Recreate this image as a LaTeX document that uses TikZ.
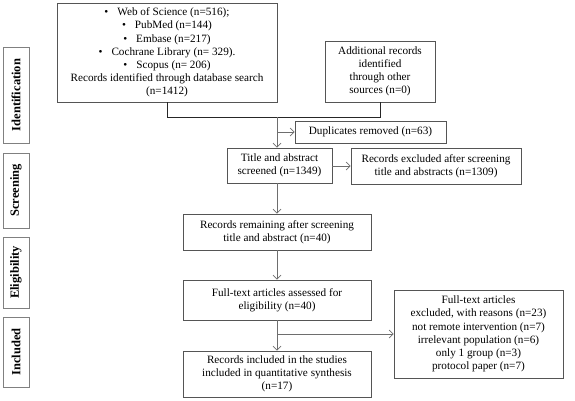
\documentclass[tikz,border=0pt]{standalone}
\usepackage{fontspec}
\setmainfont{Liberation Serif}
\usetikzlibrary{arrows.meta,shadows}
\definecolor{linec}{RGB}{110,110,110}
\definecolor{boxc}{RGB}{85,85,85}
\tikzset{
  fbox/.style={draw=boxc, line width=0.8pt, align=center, inner sep=0pt,
    font=\fontsize{11.2}{13.2}\selectfont},
  side/.style={draw=gray, line width=0.6pt, inner sep=0pt, rotate=90, fill=white,
    drop shadow={shadow xshift=1.2pt, shadow yshift=-1.2pt, fill=black!75, opacity=1},
    minimum height=26pt, font=\fontsize{12.5}{14}\selectfont\bfseries},
  conn/.style={draw=black!85, line width=1pt},
  arr/.style={draw=linec, line width=0.8pt, -{Straight Barb[length=4pt,width=8pt,line width=0.7pt]}}
}
\begin{document}
\begin{tikzpicture}[x=1pt,y=-1pt]
\useasboundingbox (0,0) rectangle (575,400);
% side labels
\node[side, minimum width=96pt] (sid) at (16,95) {Identification};
\node[side, minimum width=75pt] (sscr) at (16,190.5) {Screening};
\node[side, minimum width=71pt] (selig) at (16,272.5) {Eligibility};
\node[side, minimum width=70pt] (sincl) at (16,352) {Included};
% boxes
\node[fbox, minimum width=220pt, minimum height=99pt] (db) at (167,52.5)
  {•\hspace{9pt}Web of Science (n=516);\\
   •\hspace{9pt}PubMed (n=144)\\
   •\hspace{9pt}Embase (n=217)\\
   •\hspace{9pt}Cochrane Library (n= 329).\\
   •\hspace{9pt}Scopus (n= 206)\\
   Records identified through database search\\
   (n=1412)};
\node[fbox, minimum width=110pt, minimum height=61pt] (add) at (380,71.5)
  {Additional records\\identified\\through other\\sources (n=0)};
\node[fbox, minimum width=151pt, minimum height=22pt] (dup) at (370.5,132)
  {Duplicates removed (n=63)};
\node[fbox, minimum width=105pt, minimum height=35pt] (title) at (279.5,165.5)
  {Title and abstract\\screened (n=1349)};
\node[fbox, minimum width=170pt, minimum height=36pt] (exc1) at (436,166)
  {Records excluded after screening\\title and abstracts (n=1309)};
\node[fbox, minimum width=188pt, minimum height=36pt] (rem) at (277,232)
  {Records remaining after screening\\title and abstract (n=40)};
\node[fbox, minimum width=188pt, minimum height=40pt] (ft) at (277,300)
  {Full-text articles assessed for\\eligibility (n=40)};
\node[fbox, minimum width=188pt, minimum height=46pt] (inc) at (277,374)
  {Records included in the studies\\included in quantitative synthesis\\(n=17)};
\node[fbox, minimum width=169pt, minimum height=88pt] (exc2) at (478.5,334)
  {Full-text articles\\excluded, with reasons (n=23)\\not remote intervention (n=7)\\irrelevant population (n=6)\\only 1 group (n=3)\\protocol paper (n=7)};
% connectors
\coordinate (j) at (277,117);
\coordinate (k) at (277,334);
\draw[conn] (db.south) |- (add.south |- j) -- (add.south);
\draw[arr] (j) -- (j |- title.north);
\draw[arr] (j |- dup.west) -- (dup.west);
\draw[arr] (title.east |- exc1.west) -- (exc1.west);
\draw[arr] (j |- title.south) -- (rem.north);
\draw[arr] (rem.south) -- (ft.north);
\draw[arr] (ft.south) -- (inc.north);
\draw[arr] (k) -- (k -| exc2.west);
\end{tikzpicture}
\end{document}
